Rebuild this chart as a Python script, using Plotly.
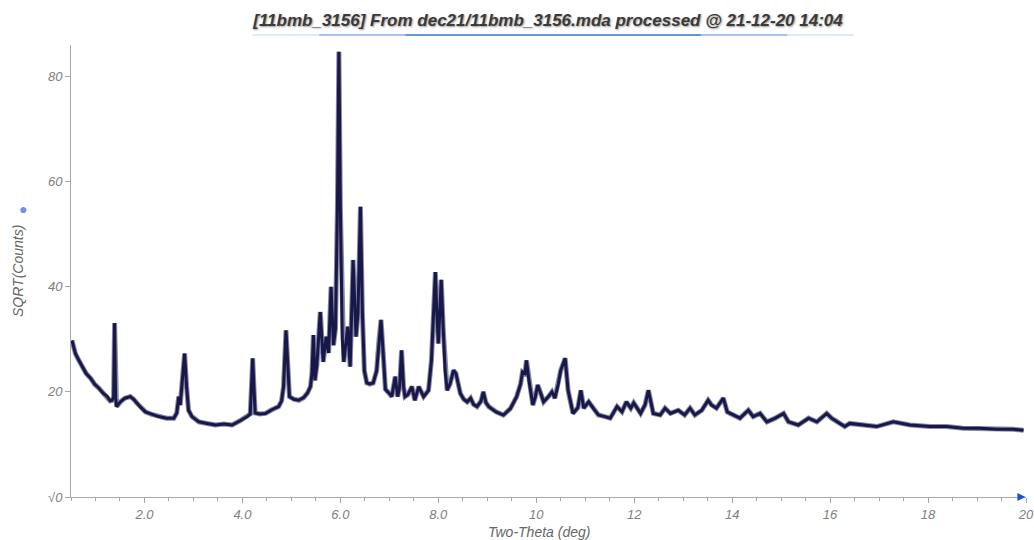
import plotly.graph_objects as go

# Two-theta (deg) and SQRT(Counts)
two_theta = [0.52, 0.59, 0.66, 0.73, 0.81, 0.90, 0.98, 1.07, 1.15, 1.24, 1.30, 1.34, 1.37, 1.39, 1.41, 1.43,
             1.51, 1.60, 1.71, 1.78, 1.85, 1.93, 2.02, 2.15, 2.29, 2.45, 2.60, 2.66, 2.70, 2.73, 2.77, 2.82,
             2.86, 2.90, 2.97, 3.11, 3.28, 3.45, 3.62, 3.79, 3.95, 4.10, 4.16, 4.19, 4.21, 4.23, 4.26, 4.35,
             4.47, 4.60, 4.74, 4.80, 4.84, 4.89, 4.93, 4.96, 5.05, 5.15, 5.25, 5.33, 5.39, 5.42, 5.45, 5.48,
             5.52, 5.59, 5.65, 5.71, 5.76, 5.81, 5.86, 5.90, 5.94, 5.97, 6.00, 6.04, 6.07, 6.15, 6.20, 6.26,
             6.32, 6.36, 6.41, 6.45, 6.49, 6.54, 6.60, 6.67, 6.74, 6.79, 6.83, 6.87, 6.92, 6.99, 7.05, 7.12,
             7.17, 7.21, 7.25, 7.29, 7.32, 7.38, 7.46, 7.52, 7.60, 7.70, 7.80, 7.86, 7.91, 7.94, 7.97, 8.00,
             8.03, 8.06, 8.10, 8.14, 8.18, 8.24, 8.31, 8.36, 8.45, 8.52, 8.59, 8.66, 8.72, 8.79, 8.87, 8.92,
             8.97, 9.03, 9.18, 9.33, 9.47, 9.60, 9.68, 9.72, 9.77, 9.80, 9.85, 9.93, 9.98, 10.03, 10.10, 10.15,
             10.24, 10.32, 10.38, 10.45, 10.50, 10.59, 10.65, 10.75, 10.85, 10.91, 10.97, 11.07, 11.17, 11.27,
             11.40, 11.51, 11.65, 11.75, 11.84, 11.93, 11.99, 12.13, 12.22, 12.29, 12.39, 12.53, 12.63, 12.74,
             12.90, 13.03, 13.14, 13.24, 13.38, 13.51, 13.58, 13.68, 13.82, 13.90, 13.96, 14.16, 14.33, 14.43,
             14.57, 14.71, 14.88, 15.05, 15.15, 15.35, 15.56, 15.73, 15.93, 16.03, 16.20, 16.30, 16.40, 16.68,
             16.95, 17.29, 17.63, 18.04, 18.38, 18.72, 19.06, 19.40, 19.74, 19.95]

sqrt_counts = [29.8, 27.3, 26.0, 24.8, 23.5, 22.6, 21.5, 20.7, 19.8, 19.1, 18.3, 18.4, 19.0, 33.1, 19.0, 17.2,
               18.1, 18.8, 19.1, 18.6, 17.8, 17.0, 16.2, 15.7, 15.3, 15.0, 15.0, 16.0, 19.1, 17.5, 22.0, 27.3,
               21.0, 16.5, 15.3, 14.3, 14.0, 13.7, 13.9, 13.7, 14.5, 15.3, 15.8, 22.0, 26.4, 22.0, 16.0, 15.8,
               15.9, 16.6, 17.2, 18.3, 21.0, 31.7, 24.0, 19.1, 18.6, 18.4, 18.9, 19.8, 21.0, 23.5, 30.8, 22.2,
               25.0, 35.2, 25.7, 30.5, 27.4, 40.0, 28.9, 32.0, 55.0, 84.7, 55.0, 30.0, 25.7, 32.4, 24.8, 45.1,
               30.5, 35.0, 55.2, 35.0, 24.0, 21.7, 21.5, 21.7, 24.0, 30.0, 33.7, 28.0, 20.5, 19.8, 19.1, 22.9,
               19.1, 21.0, 27.9, 21.0, 19.1, 19.5, 21.0, 18.4, 21.0, 19.1, 20.3, 26.0, 37.0, 42.8, 35.0, 29.2,
               35.0, 41.3, 32.0, 24.0, 20.3, 21.5, 24.1, 23.5, 19.7, 18.6, 18.1, 18.8, 17.6, 17.2, 18.2, 20.0,
               18.0, 17.2, 16.2, 15.6, 16.8, 19.1, 21.5, 23.8, 23.5, 26.0, 22.2, 17.5, 19.0, 21.3, 19.5, 18.1,
               19.0, 20.0, 18.8, 21.5, 24.1, 26.4, 20.3, 15.9, 17.0, 20.3, 16.9, 18.1, 16.8, 15.6,
               15.3, 15.0, 17.2, 16.2, 18.1, 16.9, 17.9, 15.9, 17.5, 20.3, 15.9, 15.6, 16.9, 15.9,
               16.5, 15.6, 16.9, 15.6, 16.5, 18.4, 17.5, 16.9, 18.8, 16.2, 15.9, 15.0, 16.5, 15.3,
               15.9, 14.3, 15.0, 15.9, 14.3, 13.7, 15.0, 14.3, 15.9, 15.0, 14.0, 13.4, 14.0, 13.7,
               13.4, 14.3, 13.7, 13.4, 13.4, 13.1, 13.1, 12.9, 12.9, 12.7]

x_tick_vals = [2, 4, 6, 8, 10, 12, 14, 16, 18, 20]
x_tick_text = ["2.0", "4.0", "6.0", "8.0", "10", "12", "14", "16", "18", "20"]
y_tick_vals = [0, 20, 40, 60, 80]
y_tick_text = ["\u221a0", "20", "40", "60", "80"]

title_text = "[11bmb_3156] From dec21/11bmb_3156.mda processed @ 21-12-20 14:04"

FONT = "Liberation Sans, Arial, sans-serif"

fig = go.Figure()
# soft underlay that thickens the trace like the noisy band of the original
fig.add_trace(go.Scatter(x=two_theta, y=sqrt_counts, mode="lines",
                         line=dict(color="rgba(20,20,70,0.5)", width=5), showlegend=False,
                         hoverinfo="skip"))
fig.add_trace(go.Scatter(x=two_theta, y=sqrt_counts, mode="lines",
                         line=dict(color="#17174a", width=3), showlegend=False))

tick_font = dict(family=FONT, size=13, color="#808080", style="italic")

fig.update_layout(
    width=1034, height=540,
    margin=dict(l=71, r=8, t=45, b=43),
    paper_bgcolor="white", plot_bgcolor="white",
    showlegend=False,
    xaxis=dict(range=[0.5, 20], showgrid=False, zeroline=False, automargin=False,
               showline=True, linecolor="#a8a8a8", linewidth=1,
               tickvals=x_tick_vals, ticktext=x_tick_text,
               ticks="outside", ticklen=5, tickcolor="#a8a8a8",
               minor=dict(dtick=0.5, tick0=0.5, ticks="outside", ticklen=3, tickcolor="#a8a8a8"),
               tickfont=tick_font),
    yaxis=dict(range=[0, 86], showgrid=False, zeroline=False, automargin=False,
               showline=True, linecolor="#a8a8a8", linewidth=1,
               tickvals=y_tick_vals, ticktext=y_tick_text,
               ticks="outside", ticklen=5, tickcolor="#a8a8a8",
               tickfont=tick_font),
    title=dict(text=title_text, x=0.53, xanchor="center", y=0.963, yanchor="middle",
               font=dict(family=FONT, size=17, color="#3a3a3a",
                         weight="bold", style="italic", shadow="1px 1px 2px #9a9a9a")),
)

# axis titles
fig.add_annotation(xref="paper", yref="paper", x=0.49, y=-0.077, yanchor="middle",
                   text="Two-Theta (deg)", showarrow=False,
                   font=dict(family=FONT, size=14, color="#666666", style="italic"))
fig.add_annotation(xref="paper", yref="paper", x=-0.0555, y=0.50, xanchor="center",
                   text="SQRT(Counts)", textangle=-90, showarrow=False,
                   font=dict(family=FONT, size=14, color="#666666", style="italic"))
# blue dot next to the y axis title
fig.add_annotation(xref="paper", yref="paper", x=-0.0565, y=0.639, text="\u25cf", showarrow=False,
                   font=dict(size=14, color="#6f8ff0"))

# Blue underline below the title, fading at both ends
seg = [(0.19, 0.26, "rgba(140,175,225,0.35)"), (0.26, 0.35, "rgba(90,140,215,0.7)"),
       (0.35, 0.66, "rgba(40,105,200,0.95)"), (0.66, 0.75, "rgba(90,140,215,0.7)"),
       (0.75, 0.82, "rgba(140,175,225,0.35)")]
for x0, x1, c in seg:
    fig.add_shape(type="line", xref="paper", yref="paper", x0=x0, x1=x1,
                  y0=1.022, y1=1.022, line=dict(color=c, width=1.5))

# Arrow at the end of the x axis
fig.add_shape(type="path", xref="paper", yref="paper",
              path="M 0.991 0.009 L 0.9995 0 L 0.991 -0.009 Z",
              fillcolor="#2050d0", line=dict(color="#2050d0", width=0))

fig.write_html("out.html", config={"displayModeBar": False},
               post_script="document.body.style.margin='0';document.body.style.overflow='hidden';")
